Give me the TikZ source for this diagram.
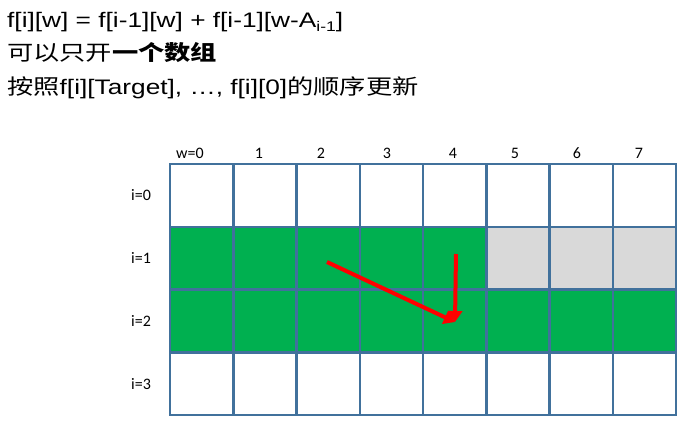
\documentclass[tikz,border=0pt]{standalone}
\usepackage{fontspec}
\setmainfont{Liberation Sans}
\newfontfamily\cjk{Noto Sans CJK SC}
\newfontfamily\lbl{Carlito}
\usetikzlibrary{arrows.meta}
\definecolor{gridblue}{RGB}{65,113,156}
\definecolor{cellgreen}{RGB}{0,176,80}
\definecolor{cellgray}{RGB}{217,217,217}
\newcommand{\wide}[1]{\scalebox{1.25}[1]{#1}}
\begin{document}
\begin{tikzpicture}[x=1pt,y=-1pt,
  cell/.style={draw=gridblue,line width=2.5pt,minimum width=63.25pt,minimum height=62.75pt,inner sep=0,outer sep=0,anchor=north west},
  hdr/.style={font=\lbl\fontsize{16}{16}\selectfont,inner sep=0},
  line/.style={anchor=base west,inner sep=0,font=\fontsize{21}{21}\selectfont},
  upd/.style={draw=red,line width=4pt,-{Triangle[length=11pt,width=14pt]}}]
\useasboundingbox (0,0) rectangle (696,429);
\node[line] (eq) at (7,27) {\wide{f[i][w] = f[i-1][w] + f[i-1][w-A\raisebox{-4pt}{\fontsize{14}{14}\selectfont i-1}]}};
\node[line] (note) at (7,60) {\wide{\cjk 可以只开\textbf{一个数组}}};
\node[line] (order) at (7,94) {\wide{\cjk 按照\rmfamily f[i][Target], …, f[i][0]\cjk 的顺序更新}};
\foreach \r in {0,...,3}
  \foreach \c in {0,...,7} {
    \def\shade{white}
    \ifnum\r=1 \ifnum\c<5 \def\shade{cellgreen}\else\def\shade{cellgray}\fi\fi
    \ifnum\r=2 \def\shade{cellgreen}\fi
    \node[cell,fill=\shade] (c\r\c) at ({170+63.25*\c},{164+62.75*\r}) {};
  }
\foreach \c/\x/\t in {0/190/w=0,1/259/1,2/321/2,3/387/3,4/453/4,5/515/5,6/577/6,7/639/7}
  \node[hdr] (w\c) at (\x,153) {\t};
\foreach \r in {0,...,3}
  \node[hdr] (i\r) at ([xshift=-29pt]c\r0.west) {i=\r};
\coordinate (diag) at (327,262);
\coordinate (vert) at (456,254);
\coordinate (tip) at (455,322);
\draw[upd] (diag) -- (tip);
\draw[upd] (vert) -- (tip);
\end{tikzpicture}
\end{document}
